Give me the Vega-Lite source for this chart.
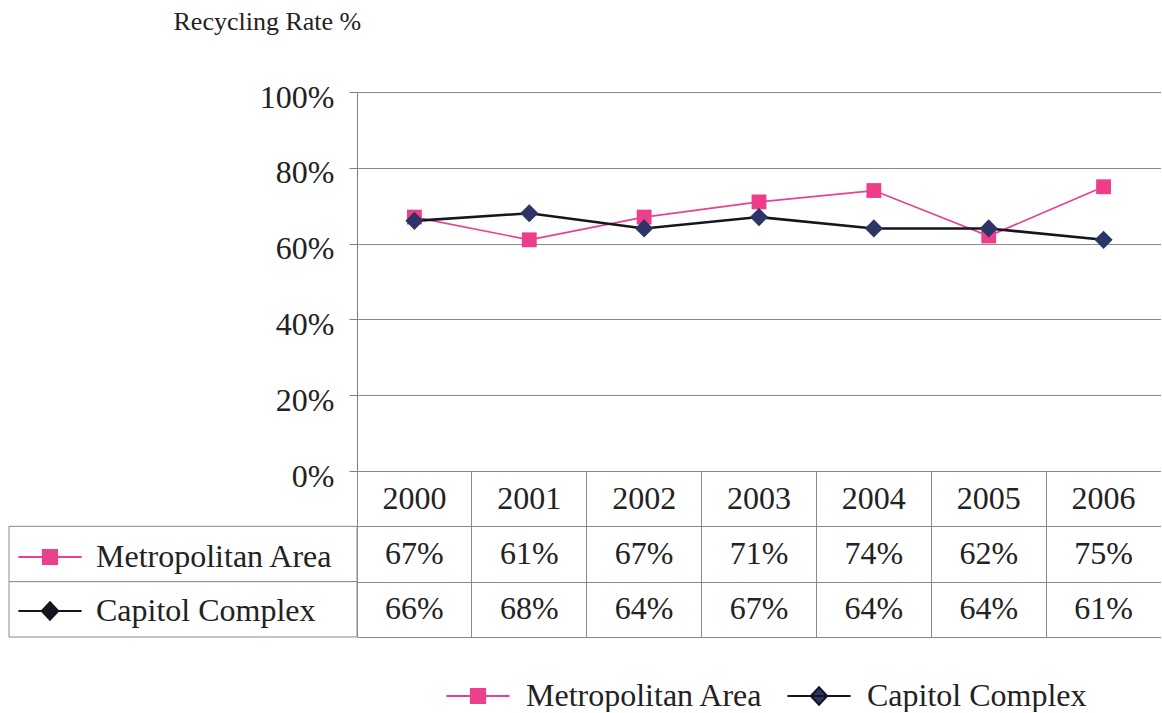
{
  "$schema": "https://vega.github.io/schema/vega-lite/v6.json",
  "padding": {"left": 8, "top": 8, "right": 0, "bottom": 0},
  "config": {"view": {"stroke": null}, "font": "Liberation Serif", "text": {"font": "Liberation Serif"}},
  "datasets": {
    "rates": [
      {"year": "2000", "series": "Metropolitan Area", "rate": 0.67},
      {"year": "2001", "series": "Metropolitan Area", "rate": 0.61},
      {"year": "2002", "series": "Metropolitan Area", "rate": 0.67},
      {"year": "2003", "series": "Metropolitan Area", "rate": 0.71},
      {"year": "2004", "series": "Metropolitan Area", "rate": 0.74},
      {"year": "2005", "series": "Metropolitan Area", "rate": 0.62},
      {"year": "2006", "series": "Metropolitan Area", "rate": 0.75},
      {"year": "2000", "series": "Capitol Complex", "rate": 0.66},
      {"year": "2001", "series": "Capitol Complex", "rate": 0.68},
      {"year": "2002", "series": "Capitol Complex", "rate": 0.64},
      {"year": "2003", "series": "Capitol Complex", "rate": 0.67},
      {"year": "2004", "series": "Capitol Complex", "rate": 0.64},
      {"year": "2005", "series": "Capitol Complex", "rate": 0.64},
      {"year": "2006", "series": "Capitol Complex", "rate": 0.61}
    ]
  },
  "columns": 2,
  "spacing": 0,
  "bounds": "flush",
  "align": "each",
  "resolve": {"scale": {"x": "independent", "y": "independent", "color": "shared"}, "legend": {"color": "independent"}},
  "concat": [
    {
      "width": 348, "height": 379,
      "data": {"name": "rates"},
      "transform": [{"filter": "datum.year == '2000' && datum.series == 'Metropolitan Area'"}],
      "mark": {"type": "text"},
      "encoding": {"text": {"value": ""}}
    },
    {
      "width": 804, "height": 379,
      "data": {"name": "rates"},
      "encoding": {
        "x": {"field": "year", "type": "ordinal", "scale": {"type": "point", "padding": 0.5}, "axis": null},
        "y": {
          "field": "rate", "type": "quantitative",
          "scale": {"domain": [0, 1], "nice": false},
          "axis": {
            "values": [0, 0.2, 0.4, 0.6, 0.8, 1],
            "format": ".0%",
            "title": "Recycling Rate %",
            "titleAngle": 0, "titleAlign": "left", "titleBaseline": "alphabetic",
            "titleX": -184, "titleY": -63,
            "titleFontSize": 26, "titleFontWeight": "normal", "titleFont": "Liberation Serif", "titleColor": "#222",
            "labelFontSize": 32, "labelFont": "Liberation Serif", "labelColor": "#222",
            "labelPadding": 15, "labelOffset": 5, "labelFlush": false, "labelBaseline": "middle",
            "tickSize": 8, "tickColor": "#808080", "domainColor": "#808080",
            "grid": true, "gridColor": "#8a8a8a"
          }
        }
      },
      "layer": [
        {
          "mark": {"type": "line"},
          "encoding": {
            "color": {
              "field": "series", "type": "nominal",
              "scale": {"domain": ["Metropolitan Area", "Capitol Complex"], "range": ["#e8428c", "#151520"]},
              "legend": {
                "orient": "none", "legendX": 104, "legendY": 587, "direction": "horizontal",
                "title": null, "symbolSize": 1000, "symbolStrokeWidth": 2,
                "labelFontSize": 32, "labelFont": "Liberation Serif", "labelColor": "#222",
                "labelOffset": 31, "columnPadding": 19, "padding": 0, "labelLimit": 400, "labelBaseline": "middle",
                "encode": {
                  "symbols": {
                    "update": {
                      "shape": {"signal": "datum.value === 'Metropolitan Area' ? 'M-2,0H2M-0.45,-0.45H0.45V0.45H-0.45Z' : 'M-2,0H2M0,-0.55L0.52,0L0,0.55L-0.52,0Z'"},
                      "fill": {"signal": "datum.value === 'Metropolitan Area' ? '#ee3d8b' : '#2d3566'"},
                      "stroke": {"signal": "datum.value === 'Metropolitan Area' ? '#e8428c' : '#151520'"},
                      "strokeWidth": {"value": 2},
                      "opacity": {"value": 1}
                    }
                  }
                }
              }
            },
            "strokeWidth": {"field": "series", "type": "nominal", "scale": {"domain": ["Metropolitan Area", "Capitol Complex"], "range": [1.7, 2.6]}, "legend": null}
          }
        },
        {
          "mark": {"type": "point", "filled": true, "opacity": 1, "strokeWidth": 0},
          "encoding": {
            "shape": {"field": "series", "type": "nominal", "scale": {"domain": ["Metropolitan Area", "Capitol Complex"], "range": ["square", "diamond"]}, "legend": null},
            "size": {"field": "series", "type": "nominal", "scale": {"domain": ["Metropolitan Area", "Capitol Complex"], "range": [220, 330]}, "legend": null},
            "fill": {"field": "series", "type": "nominal", "scale": {"domain": ["Metropolitan Area", "Capitol Complex"], "range": ["#ee3d8b", "#2d3566"]}, "legend": null}
          }
        }
      ]
    },
    {
      "width": 348, "height": 166,
      "data": {"name": "rates"},
      "transform": [{"filter": "datum.year == '2000'"}],
      "encoding": {
        "y": {"field": "series", "type": "nominal", "scale": {"domain": ["Years", "Metropolitan Area", "Capitol Complex"], "paddingInner": 0, "paddingOuter": 0}, "axis": null}
      },
      "layer": [
        {"mark": {"type": "rect", "fill": "white", "stroke": "#8a8a8a", "strokeWidth": 1}},
        {
          "mark": {"type": "text"},
          "encoding": {
            "text": {"value": ""},
            "color": {
              "field": "series", "type": "nominal",
              "legend": {
                "orient": "none", "legendX": 24, "legendY": 69, "direction": "vertical",
                "title": null, "symbolSize": 1000, "symbolStrokeWidth": 2,
                "labelFontSize": 32, "labelFont": "Liberation Serif", "labelColor": "#222",
                "labelOffset": 29, "rowPadding": 21, "padding": 0, "labelLimit": 400, "labelBaseline": "middle",
                "encode": {
                  "symbols": {
                    "update": {
                      "shape": {"signal": "datum.value === 'Metropolitan Area' ? 'M-2,0H2M-0.45,-0.45H0.45V0.45H-0.45Z' : 'M-2,0H2M0,-0.55L0.52,0L0,0.55L-0.52,0Z'"},
                      "fill": {"signal": "datum.value === 'Metropolitan Area' ? '#ee3d8b' : '#2d3566'"},
                      "stroke": {"signal": "datum.value === 'Metropolitan Area' ? '#e8428c' : '#151520'"},
                      "strokeWidth": {"value": 2},
                      "opacity": {"value": 1}
                    }
                  }
                }
              }
            }
          }
        }
      ]
    },
    {
      "width": 804, "height": 166,
      "data": {"name": "rates"},
      "encoding": {
        "x": {
          "field": "year", "type": "ordinal",
          "scale": {"type": "band", "paddingInner": 0, "paddingOuter": 0},
          "axis": {"grid": true, "bandPosition": 0, "labels": false, "ticks": false, "domain": false, "title": null, "gridColor": "#8a8a8a"}
        }
      },
      "layer": [
        {
          "transform": [{"filter": "datum.series == 'Metropolitan Area'"}],
          "mark": {"type": "text", "fontSize": 32, "color": "#222", "baseline": "middle", "align": "center"},
          "encoding": {
            "y": {
              "datum": "Years", "type": "nominal",
              "scale": {"domain": ["Years", "Metropolitan Area", "Capitol Complex"], "paddingInner": 0, "paddingOuter": 0},
              "axis": {"grid": true, "tickBand": "extent", "labels": false, "ticks": false, "domain": false, "title": null, "gridColor": "#8a8a8a"}
            },
            "text": {"field": "year"}
          }
        },
        {
          "mark": {"type": "text", "fontSize": 32, "color": "#222", "baseline": "middle", "align": "center"},
          "encoding": {
            "y": {"field": "series", "type": "nominal"},
            "text": {"field": "rate", "type": "quantitative", "format": ".0%"}
          }
        }
      ]
    }
  ]
}
